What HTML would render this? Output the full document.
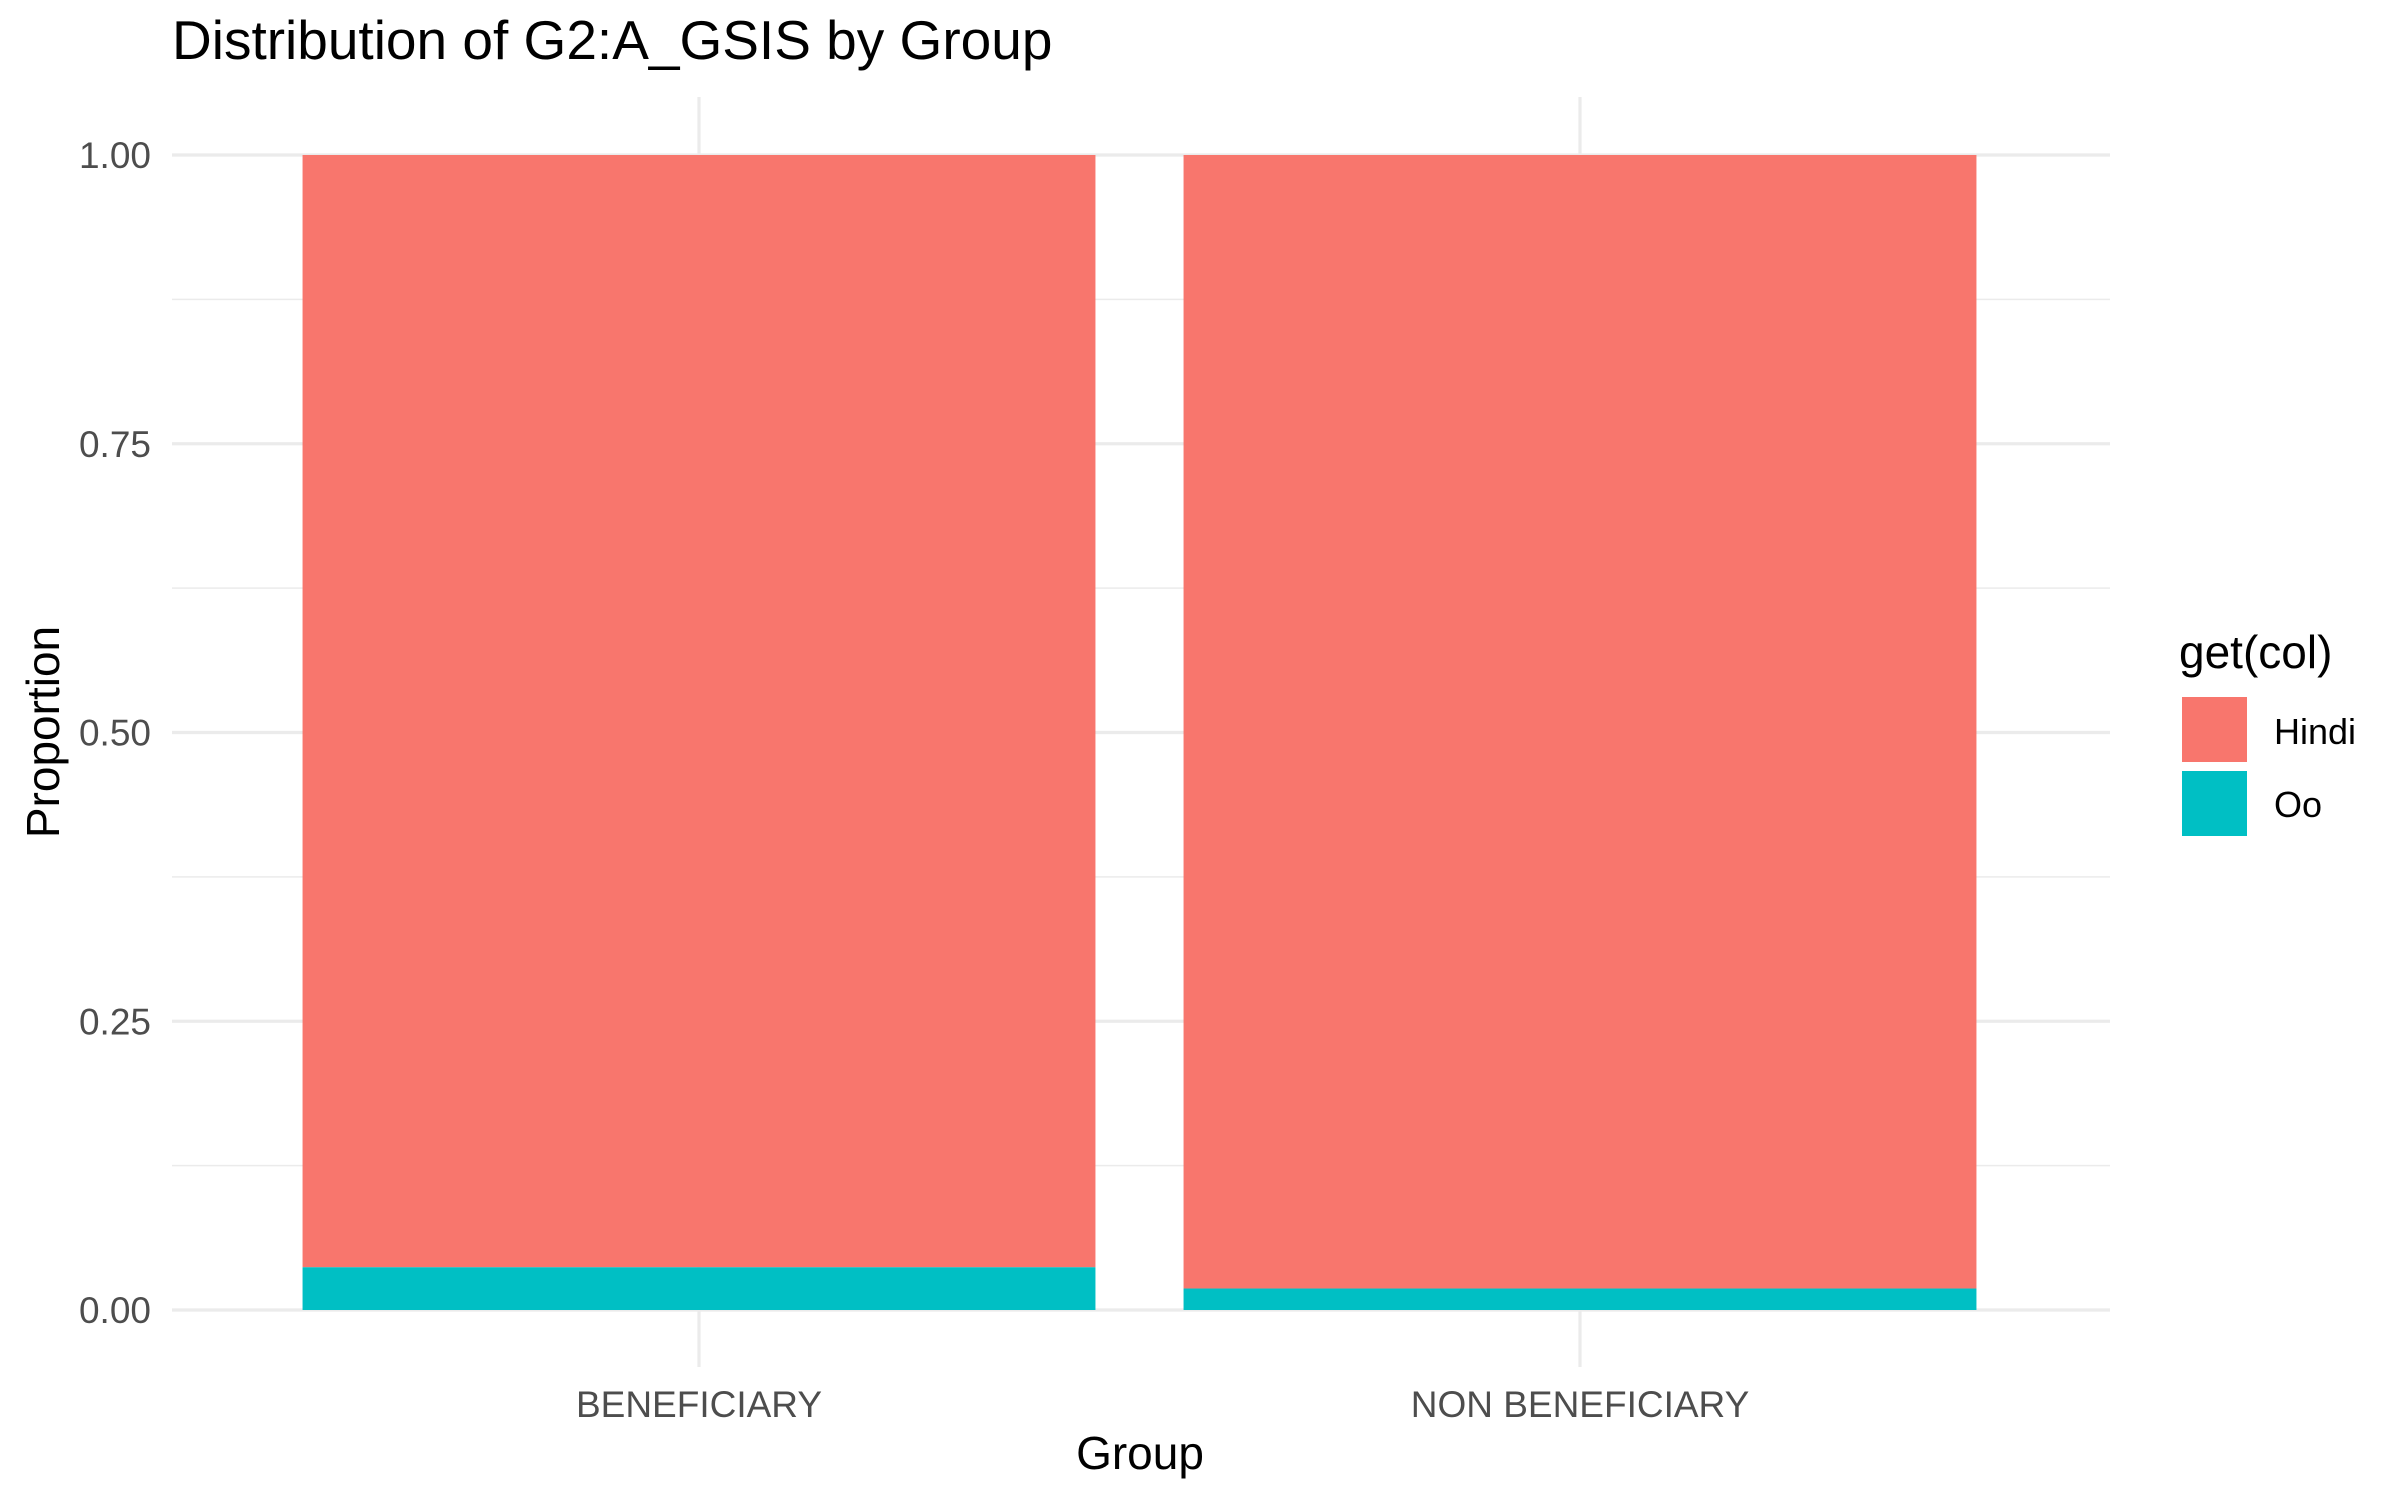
<!DOCTYPE html>
<html><head><meta charset="utf-8"><style>
html,body{margin:0;padding:0;background:#fff;}
svg{display:block;font-family:"Liberation Sans",Arial,sans-serif;}
</style></head><body>
<svg id="chart" width="2400" height="1500" viewBox="0 0 2400 1500">
<text x="172" y="59" font-size="55" fill="#000">Distribution of G2:A_GSIS by Group</text>
<g id="grid"></g>
<g id="bars"></g>
<g id="ticks"></g>
<text x="1140" y="1469" font-size="46" text-anchor="middle" fill="#000">Group</text>
<text transform="translate(59,732) rotate(-90)" font-size="46" text-anchor="middle" fill="#000">Proportion</text>
<g>
<text x="2179" y="668" font-size="46" fill="#000">get(col)</text>
<rect x="2182" y="697" width="65" height="65" fill="#F8766D"/>
<text x="2274" y="744" font-size="36" fill="#000">Hindi</text>
<rect x="2182" y="771" width="65" height="65" fill="#00BFC4"/>
<text x="2274" y="817" font-size="36" fill="#000">Oo</text>
</g>
</svg>
<script>
const categories = ["BENEFICIARY", "NON BENEFICIARY"];
const ooValues = [0.037, 0.0186];
const hindiValues = [0.963, 0.9814];
const yTicks = [0, 0.25, 0.5, 0.75, 1];
const yTickLabels = ["0.00", "0.25", "0.50", "0.75", "1.00"];
const yMinor = [0.125, 0.375, 0.625, 0.875];

const NS = "http://www.w3.org/2000/svg";
const panelL = 172, panelR = 2110;
const y0 = 1310, y1 = 155;
function yScale(v){ return y0 - v*(y0-y1); }
const unit = 881, center0 = 699;
function xScale(i){ return center0 + i*unit; }
const barW = 0.9*unit;
function mk(tag, attrs, parent){ const e=document.createElementNS(NS,tag); for(const k in attrs) e.setAttribute(k, attrs[k]); parent.appendChild(e); return e; }
const grid = document.getElementById('grid'), bars = document.getElementById('bars'), ticks = document.getElementById('ticks');

yMinor.forEach(v=>{
  const l = mk('line',{x1:panelL,x2:panelR,y1:yScale(v),y2:yScale(v),stroke:'#ebebeb','stroke-width':1.6},grid);
  
  
});
yTicks.forEach((v,i)=>{
  const l = mk('line',{x1:panelL,x2:panelR,y1:yScale(v),y2:yScale(v),stroke:'#ebebeb','stroke-width':3.2},grid);
  
  
  const t = mk('text',{x:151,y:yScale(v)+13,'font-size':37,'text-anchor':'end',fill:'#4d4d4d'},ticks);
  t.textContent = yTickLabels[i];
  
  
});
categories.forEach((c,i)=>{
  const x = xScale(i);
  const l = mk('line',{x1:x,x2:x,y1:97,y2:1367,stroke:'#ebebeb','stroke-width':3.2},grid);
  
  
  const t = mk('text',{x:x,y:1417,'font-size':37,'text-anchor':'middle',fill:'#4d4d4d'},ticks);
  t.textContent = c;
  
  
  const oTop = yScale(ooValues[i]);
  const hTop = yScale(ooValues[i]+hindiValues[i]);
  const rh = mk('rect',{x:x-barW/2,y:hTop,width:barW,height:oTop-hTop,fill:'#F8766D'},bars);
  
  
  const ro = mk('rect',{x:x-barW/2,y:oTop,width:barW,height:y0-oTop,fill:'#00BFC4'},bars);
  
  
});
</script>
</body></html>
